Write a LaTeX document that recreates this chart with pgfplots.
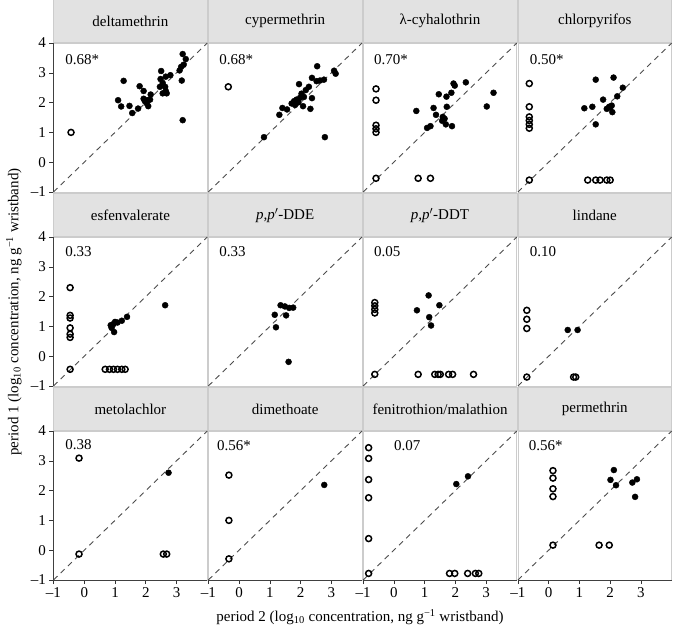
\documentclass[border=0pt]{standalone}
\usepackage{pgfplots}
\pgfplotsset{compat=1.18}
\usepackage{fontspec}
\setmainfont{Liberation Serif}
\definecolor{hdr}{gray}{0.885}
\definecolor{frm}{gray}{0.80}
\newcommand\fs{\fontsize{15}{17}\selectfont}
\pgfplotsset{
  panel/.style={scale only axis, width=153.8pt, height=149pt, anchor=south west,
    xmin=-1, xmax=4, ymin=-1, ymax=4, clip=false,
    axis line style={frm, line width=0.8pt},
    xtick=\empty, ytick=\empty,
    tick align=outside, tick style={black!80, line width=0.6pt}, major tick length=4pt,
    ticklabel style={font=\fs}},
  leftcol/.style={ytick={-1,0,1,2,3,4}, yticklabels={–1,0,1,2,3,4}, ytick pos=left},
  bottomrow/.style={xtick={-1,0,1,2,3}, xticklabels={–1,0,1,2,3}, xtick pos=bottom},
  pf/.style={only marks, mark=*, mark size=3pt, black},
  po/.style={only marks, mark=o, mark size=3pt, black, mark options={line width=1.5pt}},
  dg/.style={black!70, dash pattern=on 5.5pt off 4.5pt, line width=0.9pt, mark=none},
}
\newcommand\hdr[1]{\node[fill=hdr, draw=frm, line width=0.6pt, minimum width=153.8pt, minimum height=43pt, inner sep=0pt, anchor=south, font=\fs] at (rel axis cs:0.5,1) {#1};}
\newcommand\rr[3]{\node[anchor=west, inner sep=0pt, font=\fs] at (axis cs:#1,#2) {#3};}
\newcommand\lax{\draw[black!75, line width=0.8pt] (rel axis cs:0,0) -- (rel axis cs:0,1);}
\newcommand\bax{\draw[black!75, line width=0.8pt] (rel axis cs:0,0) -- (rel axis cs:1,0);}
\begin{document}
\begin{tikzpicture}
\path[use as bounding box] (0pt,0pt) rectangle (673pt,630pt);
% ---------------- row 1 ----------------
\begin{axis}[panel, leftcol, at={(53.5pt,438pt)}]
\hdr{deltamethrin}\lax
\addplot[dg] coordinates {(-1,-1) (4,4)};
\addplot[po] coordinates {(-0.43,1.0)};
\addplot[pf] coordinates {(3.20,3.63) (3.30,3.46) (3.23,3.27) (3.15,3.20) (3.10,3.08) (3.17,2.74) (3.20,1.41)
 (1.28,2.73) (1.10,2.08) (1.20,1.87) (1.47,1.89) (1.56,1.65) (1.75,1.80) (1.80,2.55) (1.93,2.39) (1.93,2.13)
 (1.97,2.05) (2.03,1.98) (2.08,1.88) (2.14,2.10) (2.16,2.27) (2.05,2.08) (2.50,3.06) (2.48,2.79) (2.55,2.66)
 (2.46,2.53) (2.63,2.53) (2.65,2.87) (2.80,2.92) (2.55,2.31) (2.68,2.31) (2.65,2.39)};
\rr{-0.62}{3.45}{0.68*}
\end{axis}
\begin{axis}[panel, at={(208.3pt,438pt)}]
\hdr{cypermethrin}
\addplot[dg] coordinates {(-1,-1) (4,4)};
\addplot[po] coordinates {(-0.35,2.53)};
\addplot[pf] coordinates {(2.54,3.22) (3.09,3.07) (3.14,2.97) (2.37,2.83) (2.63,2.74) (2.76,2.77) (2.52,2.72)
 (1.95,2.62) (2.27,2.53) (2.17,2.42) (2.03,2.30) (2.11,2.19) (1.98,2.16) (1.87,2.10) (1.79,2.05) (1.82,1.92)
 (1.93,2.01) (2.08,1.88) (2.37,2.15) (2.32,1.79) (1.41,1.82) (1.56,1.77) (1.31,1.59) (1.71,1.97)
 (0.81,0.84) (2.79,0.84)};
\rr{-0.65}{3.45}{0.68*}
\end{axis}
\begin{axis}[panel, at={(363.1pt,438pt)}]
\hdr{λ-cyhalothrin}
\addplot[dg] coordinates {(-1,-1) (4,4)};
\addplot[po] coordinates {(-0.58,2.46) (-0.58,2.08) (-0.58,1.24) (-0.58,1.12) (-0.58,1.0) (-0.58,-0.54)
 (0.79,-0.54) (1.19,-0.54)};
\addplot[pf] coordinates {(1.94,2.64) (1.98,2.57) (2.34,2.68) (3.24,2.33) (3.02,1.87) (1.46,2.28) (1.71,2.20)
 (1.87,2.33) (1.29,1.82) (1.72,1.86) (0.73,1.72) (1.37,1.59) (1.59,1.52) (1.65,1.46) (1.57,1.39) (1.69,1.27)
 (1.89,1.21) (1.08,1.15) (1.19,1.21)};
\rr{-0.65}{3.45}{0.70*}
\end{axis}
\begin{axis}[panel, at={(517.9pt,438pt)}]
\hdr{chlorpyrifos}
\addplot[dg] coordinates {(-1,-1) (4,4)};
\addplot[po] coordinates {(-0.63,2.64) (-0.63,1.86) (-0.63,1.52) (-0.63,1.40) (-0.63,1.27) (-0.63,1.14) (-0.63,-0.6)
 (1.27,-0.6) (1.53,-0.6) (1.67,-0.6) (1.89,-0.6) (2.0,-0.6)};
\addplot[pf] coordinates {(1.53,2.77) (2.11,2.84) (2.41,2.50) (2.23,2.21) (1.77,2.10) (2.05,1.90) (1.97,1.86)
 (1.89,1.79) (1.42,1.86) (1.16,1.81) (2.07,1.68) (1.53,1.27) (2.0,1.83)};
\rr{-0.62}{3.45}{0.50*}
\end{axis}
% ---------------- row 2 ----------------
\begin{axis}[panel, leftcol, at={(53.5pt,244pt)}]
\hdr{esfenvalerate}\lax
\addplot[dg] coordinates {(-1,-1) (4,4)};
\addplot[po] coordinates {(-0.46,2.30) (-0.46,1.37) (-0.46,1.28) (-0.46,0.95) (-0.46,0.74) (-0.46,0.63) (-0.46,-0.44)
 (0.68,-0.44) (0.82,-0.44) (0.95,-0.44) (1.08,-0.44) (1.22,-0.44) (1.33,-0.44)};
\addplot[pf] coordinates {(2.63,1.71) (1.39,1.32) (1.22,1.19) (1.08,1.13) (0.95,1.08) (0.86,1.04) (0.89,0.95)
 (0.97,0.81) (1.0,1.15)};
\rr{-0.62}{3.5}{0.33}
\end{axis}
\begin{axis}[panel, at={(208.3pt,244pt)}]
\hdr{\textit{p,p}$'$-DDE}
\addplot[dg] coordinates {(-1,-1) (4,4)};
\addplot[pf] coordinates {(1.35,1.71) (1.49,1.67) (1.63,1.62) (1.76,1.63) (1.53,1.37) (1.16,1.39) (1.20,0.97) (1.61,-0.19)};
\rr{-0.65}{3.5}{0.33}
\end{axis}
\begin{axis}[panel, at={(363.1pt,244pt)}]
\hdr{\textit{p,p}$'$-DDT}
\addplot[dg] coordinates {(-1,-1) (4,4)};
\addplot[po] coordinates {(-0.62,1.80) (-0.62,1.69) (-0.62,1.57) (-0.62,1.45) (-0.62,-0.61)
 (0.79,-0.61) (1.33,-0.61) (1.44,-0.61) (1.51,-0.61) (1.78,-0.61) (1.91,-0.61) (2.59,-0.61)};
\addplot[pf] coordinates {(1.13,2.04) (1.48,1.71) (0.75,1.54) (1.15,1.31) (1.21,1.03)};
\rr{-0.65}{3.5}{0.05}
\end{axis}
\begin{axis}[panel, at={(517.9pt,244pt)}]
\hdr{lindane}
\addplot[dg] coordinates {(-1,-1) (4,4)};
\addplot[po] coordinates {(-0.71,1.54) (-0.71,1.24) (-0.71,0.93) (-0.71,-0.70) (0.81,-0.70) (0.88,-0.70)};
\addplot[pf] coordinates {(0.62,0.88) (0.94,0.88)};
\rr{-0.62}{3.5}{0.10}
\end{axis}
% ---------------- row 3 ----------------
\begin{axis}[panel, leftcol, bottomrow, at={(53.5pt,50pt)}]
\hdr{metolachlor}\lax\bax
\addplot[dg] coordinates {(-1,-1) (4,4)};
\addplot[po] coordinates {(-0.17,3.09) (-0.17,-0.13) (2.57,-0.13) (2.68,-0.13)};
\addplot[pf] coordinates {(2.74,2.60)};
\rr{-0.62}{3.55}{0.38}
\end{axis}
\begin{axis}[panel, bottomrow, at={(208.3pt,50pt)}]
\hdr{dimethoate}\bax
\addplot[dg] coordinates {(-1,-1) (4,4)};
\addplot[po] coordinates {(-0.33,2.52) (-0.33,1.0) (-0.33,-0.29)};
\addplot[pf] coordinates {(2.77,2.19)};
\rr{-0.72}{3.5}{0.56*}
\end{axis}
\begin{axis}[panel, bottomrow, at={(363.1pt,50pt)}]
\hdr{fenitrothion/malathion}\bax
\addplot[dg] coordinates {(-1,-1) (4,4)};
\addplot[po] coordinates {(-0.82,3.44) (-0.82,3.08) (-0.82,2.37) (-0.82,1.76) (-0.82,0.39) (-0.82,-0.78)
 (1.81,-0.78) (1.98,-0.78) (2.40,-0.78) (2.65,-0.78) (2.76,-0.78)};
\addplot[pf] coordinates {(2.03,2.22) (2.41,2.48)};
\rr{0.0}{3.5}{0.07}
\end{axis}
\begin{axis}[panel, bottomrow, at={(517.9pt,50pt)}]
\hdr{permethrin}\bax
\addplot[dg] coordinates {(-1,-1) (4,4)};
\addplot[po] coordinates {(0.14,2.67) (0.14,2.42) (0.14,2.06) (0.14,1.80) (0.14,0.17) (1.64,0.17) (1.97,0.17)};
\addplot[pf] coordinates {(2.12,2.69) (2.01,2.36) (2.19,2.18) (2.72,2.27) (2.87,2.38) (2.81,1.79)};
\rr{-0.65}{3.5}{0.56*}
\end{axis}
% ---------------- axis titles ----------------
\node[rotate=90, font=\fs] at (14pt,318pt) {period 1 (log\textsubscript{10} concentration, ng g\textsuperscript{−1} wristband)};
\node[font=\fs] at (360pt,13pt) {period 2 (log\textsubscript{10} concentration, ng g\textsuperscript{−1} wristband)};
\end{tikzpicture}
\end{document}
